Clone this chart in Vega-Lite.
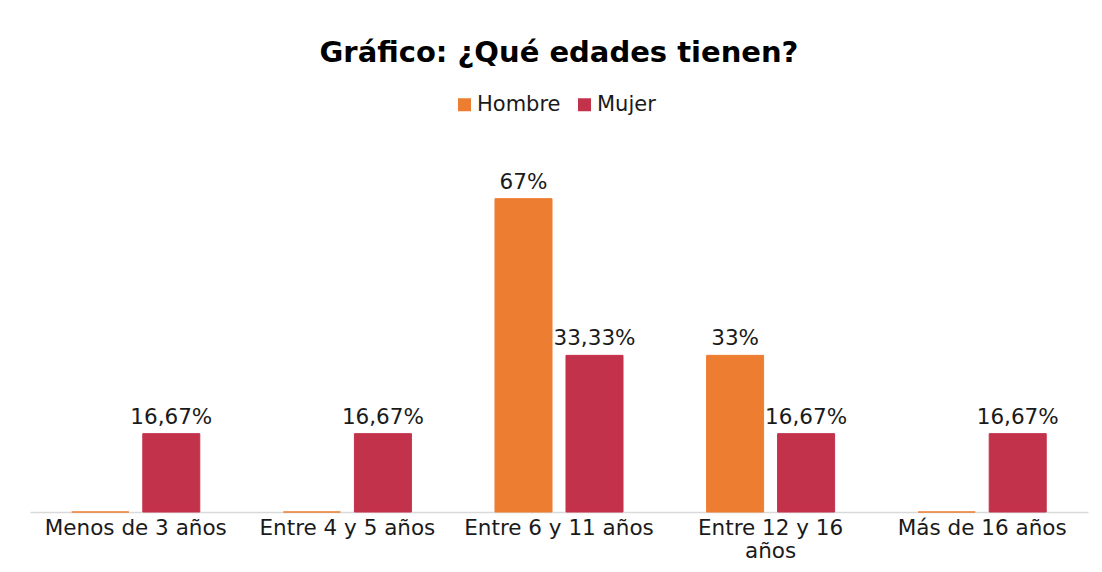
{
  "$schema": "https://vega.github.io/schema/vega-lite/v6.json",
  "width": 1058,
  "height": 376,
  "autosize": {"type": "none"},
  "padding": {"left": 30, "top": 136, "right": 14, "bottom": 60},
  "background": "white",
  "config": {"view": {"stroke": null}},
  "title": {
    "text": "Gráfico: ¿Qué edades tienen?",
    "anchor": "middle",
    "font": "DejaVu Sans",
    "fontSize": 29,
    "fontWeight": "bold",
    "color": "#000000",
    "offset": 26
  },
  "data": {
    "values": [
      {"edad": "Menos de 3 años", "serie": "Hombre", "valor": 0, "etiqueta": ""},
      {"edad": "Menos de 3 años", "serie": "Mujer", "valor": 16.67, "etiqueta": "16,67%"},
      {"edad": "Entre 4 y 5 años", "serie": "Hombre", "valor": 0, "etiqueta": ""},
      {"edad": "Entre 4 y 5 años", "serie": "Mujer", "valor": 16.67, "etiqueta": "16,67%"},
      {"edad": "Entre 6 y 11 años", "serie": "Hombre", "valor": 66.67, "etiqueta": "67%"},
      {"edad": "Entre 6 y 11 años", "serie": "Mujer", "valor": 33.33, "etiqueta": "33,33%"},
      {"edad": "Entre 12 y 16 años", "serie": "Hombre", "valor": 33.33, "etiqueta": "33%"},
      {"edad": "Entre 12 y 16 años", "serie": "Mujer", "valor": 16.67, "etiqueta": "16,67%"},
      {"edad": "Más de 16 años", "serie": "Hombre", "valor": 0, "etiqueta": ""},
      {"edad": "Más de 16 años", "serie": "Mujer", "valor": 16.67, "etiqueta": "16,67%"}
    ]
  },
  "encoding": {
    "x": {
      "field": "edad",
      "type": "nominal",
      "sort": null,
      "scale": {"paddingInner": 0.395, "paddingOuter": 0.1975},
      "axis": {
        "title": null,
        "labelAngle": 0,
        "labelFont": "DejaVu Sans",
        "labelFontSize": 21.5,
        "labelColor": "#1a1a1a",
        "labelPadding": 5,
        "labelLineHeight": 23,
        "labelLimit": 0,
        "labelExpr": "datum.label == 'Entre 12 y 16 años' ? ['Entre 12 y 16', 'años'] : datum.label",
        "ticks": false,
        "domainColor": "#d9d9d9",
        "domainWidth": 1.5,
        "grid": false
      }
    },
    "xOffset": {
      "field": "serie",
      "type": "nominal",
      "scale": {"paddingInner": 0.197, "paddingOuter": 0}
    },
    "y": {
      "field": "valor",
      "type": "quantitative",
      "scale": {"domain": [0, 80]},
      "axis": null
    }
  },
  "layer": [
    {
      "mark": {"type": "bar", "strokeWidth": 1},
      "encoding": {
        "color": {
          "field": "serie",
          "type": "nominal",
          "scale": {"domain": ["Hombre", "Mujer"], "range": ["#ED7D31", "#C3324B"]},
          "legend": {
            "title": null,
            "orient": "none",
            "direction": "horizontal",
            "legendX": 424,
            "legendY": -42,
            "symbolType": "square",
            "symbolSize": 169,
            "symbolStrokeWidth": 0,
            "labelFont": "DejaVu Sans",
            "labelFontSize": 21,
            "labelColor": "#1a1a1a",
            "labelOffset": 2,
            "columnPadding": 13
          }
        },
        "stroke": {
          "field": "serie",
          "type": "nominal",
          "scale": {"domain": ["Hombre", "Mujer"], "range": ["#ED7D31", "#C3324B"]},
          "legend": null
        }
      }
    },
    {
      "mark": {
        "type": "text",
        "baseline": "alphabetic",
        "dy": -10,
        "font": "DejaVu Sans",
        "fontSize": 21.5,
        "color": "#1a1a1a"
      },
      "encoding": {
        "text": {"field": "etiqueta"}
      }
    }
  ]
}
